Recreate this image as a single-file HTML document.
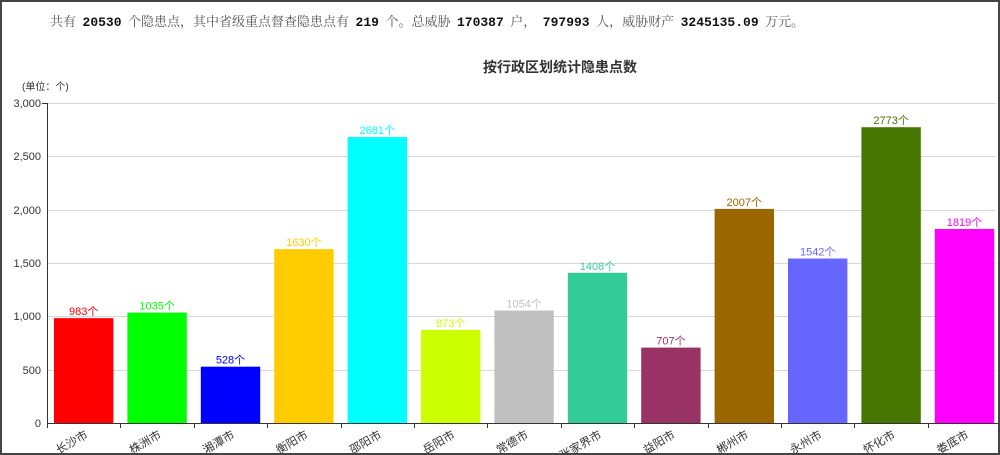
<!DOCTYPE html>
<html><head><meta charset="utf-8"><style>
html,body{margin:0;padding:0;background:#fff;}
#wrap{position:relative;width:996px;height:451px;border:2px solid #444;overflow:hidden;}
#hdr{position:absolute;left:48px;top:9px;font-family:"Liberation Serif","Noto Serif CJK SC",serif;font-size:13px;color:#555;white-space:pre;letter-spacing:0;}
#hdr b{color:#111;font-family:"Liberation Mono",monospace;font-size:13px;letter-spacing:0;}
svg{position:absolute;left:-2px;top:-2px;}
</style></head><body><div id="wrap">
<div id="hdr">共有  <b>20530</b>  个隐患点，其中省级重点督查隐患点有  <b>219</b>  个。总威胁  <b>170387</b>  户，  <b>797993</b>  人，威胁财产  <b>3245135.09</b>  万元。</div>
<svg width="1000" height="455" font-family="'Liberation Sans','Noto Sans CJK SC',sans-serif">
<text x="560" y="72" text-anchor="middle" font-size="14" font-weight="bold" fill="#333">按行政区划统计隐患点数</text>
<text x="22" y="90" font-size="10" fill="#333">(单位：个)</text>
<g stroke="#d8d8d8" stroke-width="1">
<line x1="47" y1="103.5" x2="996" y2="103.5"/>
<line x1="47" y1="156.5" x2="996" y2="156.5"/>
<line x1="47" y1="210.5" x2="996" y2="210.5"/>
<line x1="47" y1="263.5" x2="996" y2="263.5"/>
<line x1="47" y1="316.5" x2="996" y2="316.5"/>
<line x1="47" y1="370.5" x2="996" y2="370.5"/>
</g>
<g font-size="11" fill="#333" text-anchor="end">
<text x="41" y="107">3,000</text><text x="41" y="160">2,500</text><text x="41" y="214">2,000</text>
<text x="41" y="267">1,500</text><text x="41" y="320">1,000</text><text x="41" y="374">500</text><text x="41" y="427">0</text>
</g>
<g id="bars"></g>
<line x1="47" y1="423.5" x2="1000" y2="423.5" stroke="#333"/>
<line x1="47.5" y1="103" x2="47.5" y2="424" stroke="#333"/>
<line x1="42" y1="103.5" x2="47" y2="103.5" stroke="#333"/>
<g id="ticks" stroke="#333"></g>
<g id="labs" font-size="11.5" fill="#333" text-anchor="end"></g>
</svg>
<script>
var d=[["长沙市",983,"#ff0000"],["株洲市",1035,"#00ff00"],["湘潭市",528,"#0000ff"],["衡阳市",1630,"#ffcc00"],["邵阳市",2681,"#00ffff"],["岳阳市",873,"#ccff00"],["常德市",1054,"#c0c0c0"],["张家界市",1408,"#33cc99"],["益阳市",707,"#993366"],["郴州市",2007,"#996600"],["永州市",1542,"#6666ff"],["怀化市",2773,"#467500"],["娄底市",1819,"#ff00ff"]];
var ns="http://www.w3.org/2000/svg",b=document.getElementById("bars"),t=document.getElementById("ticks"),l=document.getElementById("labs");
function el(n,a,p,txt){var e=document.createElementNS(ns,n);for(var k in a)e.setAttribute(k,a[k]);if(txt)e.textContent=txt;p.appendChild(e);return e;}
var w=73.4;
d.forEach(function(r,i){var x0=47+w*i,cx=x0+w/2,y=423-r[1]*320/3000;
el("rect",{x:x0+7,y:y,width:w-14,height:423-y,fill:r[2]},b);
el("text",{x:cx,y:y-3,"text-anchor":"middle","font-size":"11",fill:r[2]},b,r[1]+"个");
el("line",{x1:Math.round(x0)+0.5,y1:423,x2:Math.round(x0)+0.5,y2:428},t);
el("text",{x:cx+5,y:437,transform:"rotate(-30 "+(cx+5)+" 437)"},l,r[0]);});
</script>
</div></body></html>
